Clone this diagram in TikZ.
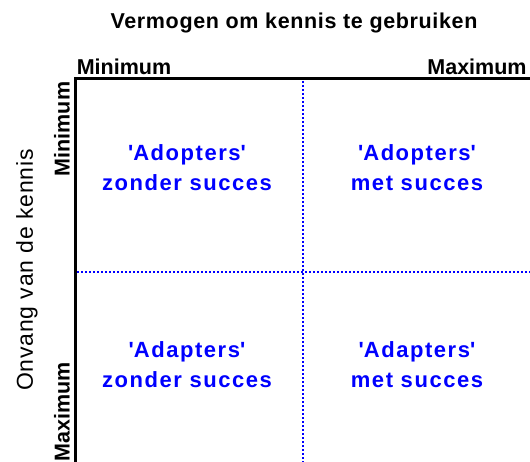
\documentclass[tikz,border=0pt]{standalone}
\usepackage{fontspec}
\setmainfont{Liberation Sans}
\definecolor{qblue}{RGB}{0,0,255}
\newcommand{\sq}{\textquotesingle}
\tikzset{
  boldlbl/.style={font=\bfseries\fontsize{21.5}{26}\selectfont, inner sep=0pt},
  titlelbl/.style={font=\bfseries\fontsize{21.5}{26}\selectfont\addfontfeature{LetterSpace=3}, inner sep=0pt},
  quad/.style={font=\bfseries\fontsize{22}{30}\selectfont\addfontfeature{LetterSpace=7}, text=qblue, align=center, inner sep=0pt},
  sidelbl/.style={font=\fontsize{23}{26}\selectfont\addfontfeature{LetterSpace=3.5}, inner sep=0pt, rotate=90},
  frame/.style={line width=3pt, line join=miter},
  divider/.style={qblue, line width=1.1pt, dash pattern=on 2pt off 2pt}
}
\begin{document}
\begin{tikzpicture}[x=1pt,y=-1pt]
\useasboundingbox (0,0) rectangle (530,462);
% frame
\coordinate (tr) at (530,79);
\coordinate (corner) at (75,79);
\coordinate (bl) at (75,462);
\draw[frame] (tr) -- (corner) -- (bl);
% dividers
\coordinate (vtop) at (303,81);
\coordinate (vbot) at (303,462);
\coordinate (hl) at (77,272);
\coordinate (hr) at (530,272);
\draw[divider] (vtop) -- (vbot);
\draw[divider] (hl) -- (hr);
% labels
\node[titlelbl] (title) at (294,23) {Vermogen om kennis te gebruiken};
\node[boldlbl] (tmin) at (124,67) {Minimum};
\node[boldlbl] (tmax) at (477,67) {Maximum};
\node[sidelbl] (side) at (27,270) {Onvang van de kennis};
\node[boldlbl, rotate=90] (lmin) at (62,129) {Minimum};
\node[boldlbl, rotate=90] (lmax) at (62,412) {Maximum};
% quadrants
\node[quad] (q1) at (187,168) {\sq Adopters\sq\\zonder succes};
\node[quad] (q2) at (417,168) {\sq Adopters\sq\\met succes};
\node[quad] (q3) at (187,365) {\sq Adapters\sq\\zonder succes};
\node[quad] (q4) at (417,365) {\sq Adapters\sq\\met succes};
\end{tikzpicture}
\end{document}
